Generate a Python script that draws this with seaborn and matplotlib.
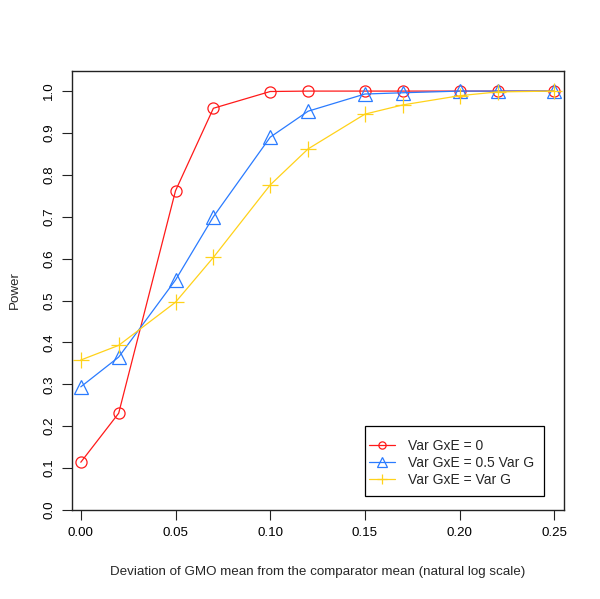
import matplotlib
matplotlib.use("Agg")
import matplotlib.pyplot as plt
import seaborn as sns
import pandas as pd
from matplotlib.lines import Line2D
from matplotlib.patches import Rectangle

# Data
deviation = [0.00, 0.02, 0.05, 0.07, 0.10, 0.12, 0.15, 0.17, 0.20, 0.22, 0.25]
power_gxe0 = [0.114, 0.231, 0.762, 0.959, 0.999, 1.000, 1.000, 1.000, 1.000, 1.000, 1.000]
power_gxe_half = [0.294, 0.365, 0.549, 0.700, 0.890, 0.952, 0.993, 0.996, 1.000, 1.000, 1.000]
power_gxe_full = [0.358, 0.393, 0.496, 0.603, 0.776, 0.862, 0.945, 0.967, 0.989, 0.998, 1.000]
labels = ["Var GxE = 0", "Var GxE = 0.5 Var G", "Var GxE = Var G"]
x_ticks = [0.00, 0.05, 0.10, 0.15, 0.20, 0.25]
y_ticks = [0.0, 0.1, 0.2, 0.3, 0.4, 0.5, 0.6, 0.7, 0.8, 0.9, 1.0]

sns.set_style("ticks")
plt.rcParams["font.family"] = ["Liberation Sans", "DejaVu Sans"]

colors = ["#FF1A1A", "#2A7BFF", "#FFD21A"]
markers = ["o", "^", "+"]
msizes = [8, 10, 11]

fig = plt.figure(figsize=(6.0, 5.99), dpi=100)
ax = fig.add_axes([0.1195, 0.1486, 0.8205, 0.7329])

series = [power_gxe0, power_gxe_half, power_gxe_full]
handles = []
for vals, lab, c, m, ms in zip(series, labels, colors, markers, msizes):
    df = pd.DataFrame({"x": deviation, "y": vals})
    sns.lineplot(data=df, x="x", y="y", ax=ax, color=c, linewidth=0.9,
                 marker=m, markersize=ms, markerfacecolor="none",
                 markeredgecolor=c, markeredgewidth=0.9, legend=False)
    handles.append(Line2D([0], [0], color=c, linewidth=0.9, marker=m,
                          markersize=ms * 0.65, markerfacecolor="none",
                          markeredgecolor=c, markeredgewidth=0.9))

ax.set_xlim(-0.0048, 0.2551)
ax.set_ylim(0.0, 1.048)
ax.set_xticks(x_ticks)
ax.set_xticklabels([f"{v:.2f}" for v in x_ticks])
ax.set_yticks(y_ticks)
ax.set_yticklabels([f"{v:.1f}" for v in y_ticks], rotation=90, va="center")
ax.tick_params(axis="both", direction="out", length=7, width=0.8,
               labelsize=9.6, pad=5, colors="#222222", labelcolor="black")

for sp in ax.spines.values():
    sp.set_visible(True)
    sp.set_linewidth(1.0)
    sp.set_color("#222222")

ax.set_xlabel("Deviation of GMO mean from the comparator mean (natural log scale)",
              fontsize=9.6, labelpad=20)
ax.set_ylabel("Power", fontsize=9.6, labelpad=16)

# legend box frame
ax.add_patch(Rectangle((0.5958, 0.0319), 0.3636, 0.1595, transform=ax.transAxes,
                       fill=True, facecolor="white", edgecolor="black",
                       linewidth=0.9, zorder=4))
leg = ax.legend(handles, labels, loc="upper left", bbox_to_anchor=(0.604, 0.161),
                borderaxespad=0, borderpad=0, fontsize=10, frameon=False,
                handlelength=1.87, handletextpad=0.94, labelspacing=0.2)
leg.set_zorder(5)

fig.savefig("out.png", dpi=100, facecolor="white")
